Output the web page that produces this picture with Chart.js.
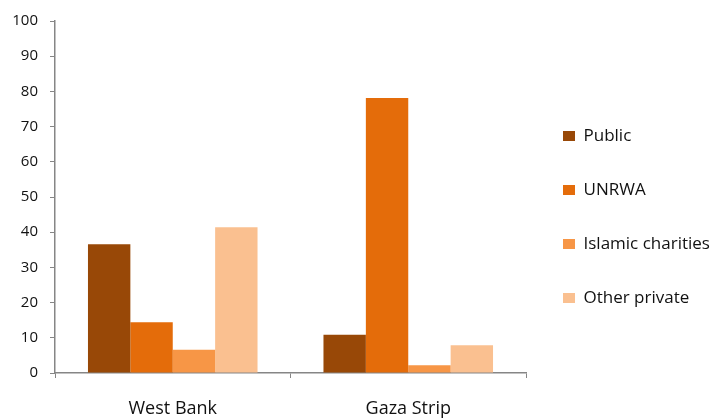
<!DOCTYPE html>
<html>
<head>
<meta charset="utf-8">
<script src="https://cdn.jsdelivr.net/npm/chart.js@4/dist/chart.umd.min.js"></script>
<style>
  html, body { margin: 0; padding: 0; background: #fff; }
  #wrap { width: 713px; height: 418px; }
</style>
</head>
<body>
<div id="wrap"><canvas id="schoolChart" width="713" height="418"></canvas></div>
<script>
const regions = ['West Bank', 'Gaza Strip'];
const publicShare = [36.6, 10.9];
const unrwaShare = [14.4, 78.1];
const islamicShare = [6.6, 2.2];
const otherPrivateShare = [41.4, 7.9];
const yTicks = [0, 10, 20, 30, 40, 50, 60, 70, 80, 90, 100];

const axisGrey = '#868686';
const textColor = '#111';
Chart.defaults.font.family = '"Open Sans", Lato, sans-serif';

const bar = (label, data, color) => ({
    label: label,
    data: data,
    backgroundColor: color,
    borderWidth: 0,
    categoryPercentage: 0.72,
    barPercentage: 1.0
});

new Chart(document.getElementById('schoolChart'), {
    type: 'bar',
    data: {
        labels: regions,
        datasets: [
            bar('Public', publicShare, '#984807'),
            bar('UNRWA', unrwaShare, '#e46c0a'),
            bar('Islamic charities', islamicShare, '#f79646'),
            bar('Other private', otherPrivateShare, '#fac090')
        ]
    },
    options: {
        responsive: false,
        animation: false,
        layout: { padding: { top: 8, left: 0, right: 0, bottom: 0 } },
        plugins: {
            tooltip: { enabled: false },
            legend: {
                position: 'right',
                maxWidth: 187,
                // empty title just pushes the legend items down a little
                title: { display: true, text: '', font: { size: 5 }, padding: 1 },
                labels: {
                    boxWidth: 12,
                    boxHeight: 10,
                    padding: 37,
                    color: textColor,
                    font: { size: 17 }
                }
            }
        },
        scales: {
            x: {
                afterFit: axis => { axis.height = 45; },
                grid: {
                    display: true,
                    drawOnChartArea: false,
                    drawTicks: true,
                    tickLength: 5,
                    color: axisGrey,
                    offset: true
                },
                border: { color: axisGrey, width: 1.5 },
                ticks: { color: textColor, padding: 20, font: { size: 18 } }
            },
            y: {
                min: 0,
                max: 100,
                afterBuildTicks: axis => { axis.ticks = yTicks.map(v => ({ value: v })); },
                afterFit: axis => { axis.width = 55; },
                grid: {
                    display: true,
                    drawOnChartArea: false,
                    drawTicks: true,
                    tickLength: 5,
                    color: axisGrey
                },
                border: { color: axisGrey, width: 1.5 },
                ticks: { color: textColor, padding: 12, font: { size: 15 } }
            }
        }
    }
});
</script>
</body>
</html>
